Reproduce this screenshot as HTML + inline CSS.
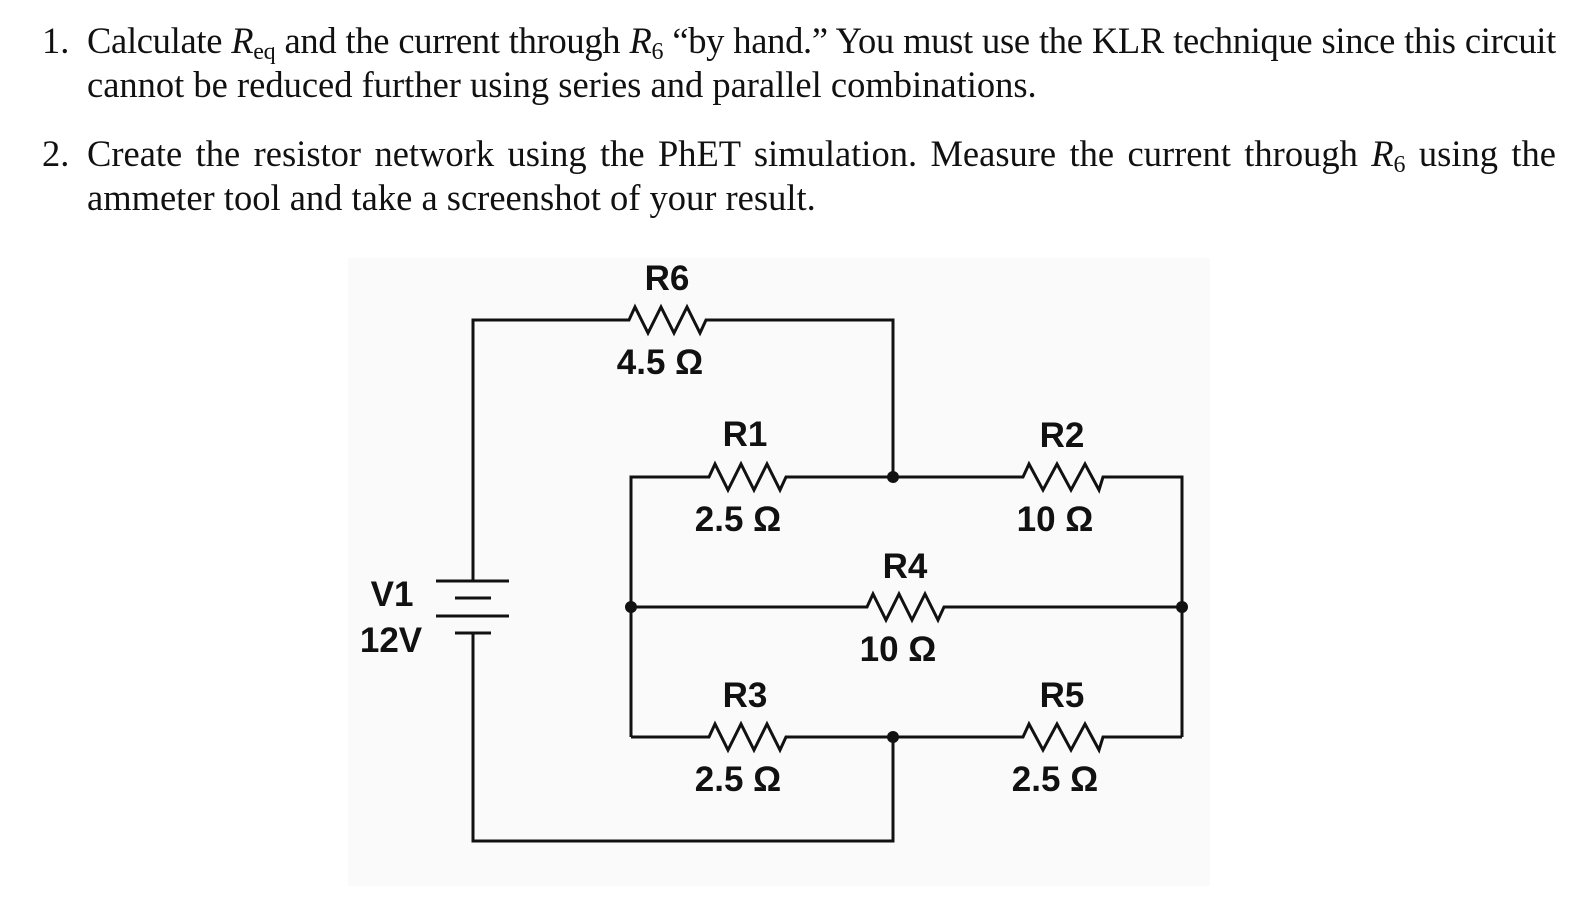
<!DOCTYPE html>
<html><head><meta charset="utf-8"><style>
html,body{margin:0;padding:0;background:#fff;width:1590px;height:900px;overflow:hidden}
.t{position:absolute;font-family:"Liberation Serif",serif;font-size:36.5px;color:#111;white-space:nowrap;line-height:1}
.j{text-align:justify;text-align-last:justify;width:1469px;left:87px}
.n{left:42px}
i{font-style:italic}
sub{font-size:24px;vertical-align:-6px;line-height:0}
</style></head><body>
<div class="t n" style="top:23px">1.</div>
<div class="t j" style="top:23px;letter-spacing:-0.3px">Calculate <i>R</i><sub>eq</sub> and the current through <i>R</i><sub>6</sub> “by hand.” You must use the KLR technique since this circuit</div>
<div class="t" style="left:87px;top:67px">cannot be reduced further using series and parallel combinations.</div>
<div class="t n" style="top:136px">2.</div>
<div class="t j" style="top:136px">Create the resistor network using the PhET simulation. Measure the current through <i>R</i><sub>6</sub> using the</div>
<div class="t" style="left:87px;top:180px">ammeter tool and take a screenshot of your result.</div>
<svg width="1590" height="900" style="position:absolute;left:0;top:0">
<rect x="348" y="258" width="862" height="628" fill="#fafafa"/>
<g fill="none" stroke="#111" stroke-width="3" stroke-linejoin="miter">
<path d="M473 581 V320 H629 l6 -13 l13 26 l13 -26 l13 26 l13 -26 l13 26 l6 -13 H893 V477"/>
<path d="M631 737 V477 H709 l6 -13 l13 26 l13 -26 l13 26 l13 -26 l13 26 l6 -13 H1023 l6 -13 l14 26 l14 -26 l14 26 l14 -26 l14 26 l4 -13 H1182 V737"/>
<path d="M631 607 H867 l6 -13 l13 26 l13 -26 l13 26 l13 -26 l13 26 l6 -13 H1182"/>
<path d="M631 737 H709 l6 -13 l13 26 l13 -26 l13 26 l13 -26 l13 26 l6 -13 H1023 l6 -13 l14 26 l14 -26 l14 26 l14 -26 l14 26 l4 -13 H1182"/>
<path d="M473 633 V841 H893 V737"/>
<path d="M436 581 H509 M455 598 H491 M436 616 H509 M455 633 H491"/>
</g>
<g fill="#111"><circle cx="893" cy="477" r="6"/><circle cx="631" cy="607" r="6"/><circle cx="1182" cy="607" r="6"/><circle cx="893" cy="737" r="6"/></g>
<g font-family="Liberation Sans,Arial,sans-serif" font-weight="bold" font-size="35" fill="#111" text-anchor="middle">
<text x="667" y="290">R6</text><text x="660" y="374">4.5 Ω</text>
<text x="745" y="446">R1</text><text x="738" y="531">2.5 Ω</text>
<text x="1062" y="447">R2</text><text x="1055" y="531">10 Ω</text>
<text x="905" y="578">R4</text><text x="898" y="661">10 Ω</text>
<text x="745" y="707">R3</text><text x="738" y="791">2.5 Ω</text>
<text x="1062" y="707">R5</text><text x="1055" y="791">2.5 Ω</text>
<text x="392" y="606">V1</text><text x="391" y="652">12V</text>
</g>
</svg>
</body></html>
